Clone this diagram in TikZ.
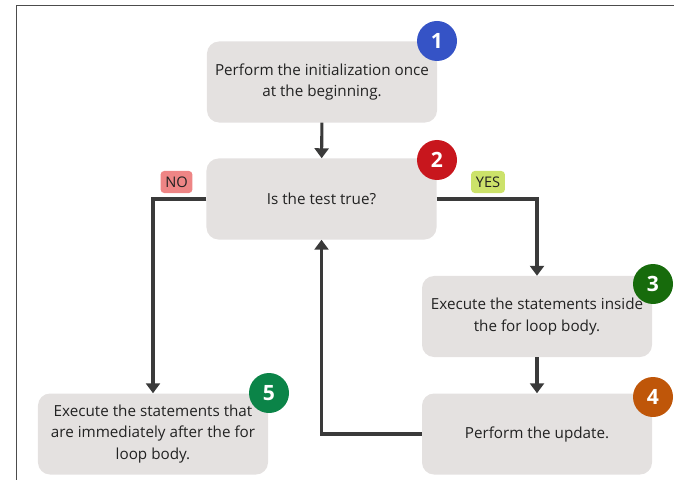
\documentclass[tikz,border=0pt]{standalone}
\usepackage{fontspec}
\setmainfont{Open Sans}
\usetikzlibrary{arrows.meta,positioning}
\definecolor{boxgray}{HTML}{E4E1E0}
\definecolor{linegray}{HTML}{3A3A3A}
\definecolor{txt}{HTML}{222222}
\definecolor{nofill}{HTML}{EE8585}
\definecolor{yesfill}{HTML}{CCE26A}
\definecolor{cone}{HTML}{3553C6}
\definecolor{ctwo}{HTML}{C8161D}
\definecolor{cthree}{HTML}{176B0C}
\definecolor{cfour}{HTML}{BF5609}
\definecolor{cfive}{HTML}{0B8448}

\begin{document}
\begin{tikzpicture}[x=0.03cm, y=-0.03cm, font=\fontsize{13}{18.3}\selectfont,
    >={Triangle[length=0.3cm, width=0.42cm]},
    stepbox/.style={fill=boxgray, rounded corners=0.36cm, text=txt,
                minimum width=6.9cm, minimum height=2.43cm,
                align=center},
    badge/.style={circle, fill=#1, text=white, minimum size=1.2cm,
                inner sep=0pt, font=\fontsize{18}{18}\selectfont\bfseries},
    tag/.style={fill=#1, rounded corners=3pt, text=txt,
                minimum height=0.66cm, inner xsep=4pt,
                font=\fontsize{12.5}{14}\selectfont},
    flow/.style={->, draw=linegray, line width=2.6pt}]

  \useasboundingbox (0,0) rectangle (674,480);

  %% frame
  \draw[gray!60!black, line width=0.8pt] (16,480) -- (16,5) -- (674,5);

  %% boxes
  \node[stepbox] (init) at (322,82)
    {Perform the initialization once\\at the beginning.};
  \node[stepbox] (test) at (321.5,199)
    {Is the test true?};
  \node[stepbox] (body) at (537,316.5)
    {Execute the statements inside\\the for loop body.};
  \node[stepbox] (update) at (537,434)
    {Perform the update.};
  \node[stepbox] (done) at (153,434)
    {Execute the statements that\\are immediately after the for\\loop body.};

  %% numbered badges
  \node[badge=cone]   (b1) at (437,41)  {1};
  \node[badge=ctwo]   (b2) at (437,160) {2};
  \node[badge=cthree] (b3) at (653,284) {3};
  \node[badge=cfour]  (b4) at (653,397) {4};
  \node[badge=cfive]  (b5) at (269,393) {5};

  %% answers
  \node[tag=nofill]  (no)  at (176.5,182) {NO};
  \node[tag=yesfill] (yes) at (488,182)   {YES};

  %% connectors
  \draw[flow] (init) -- (test);
  \draw[flow] (test.west) -| (done.north);
  \draw[flow] (test.east) -| (body.north);
  \draw[flow] (body) -- (update);
  \draw[flow] (update.west) -| (test.south);

\end{tikzpicture}
\end{document}
